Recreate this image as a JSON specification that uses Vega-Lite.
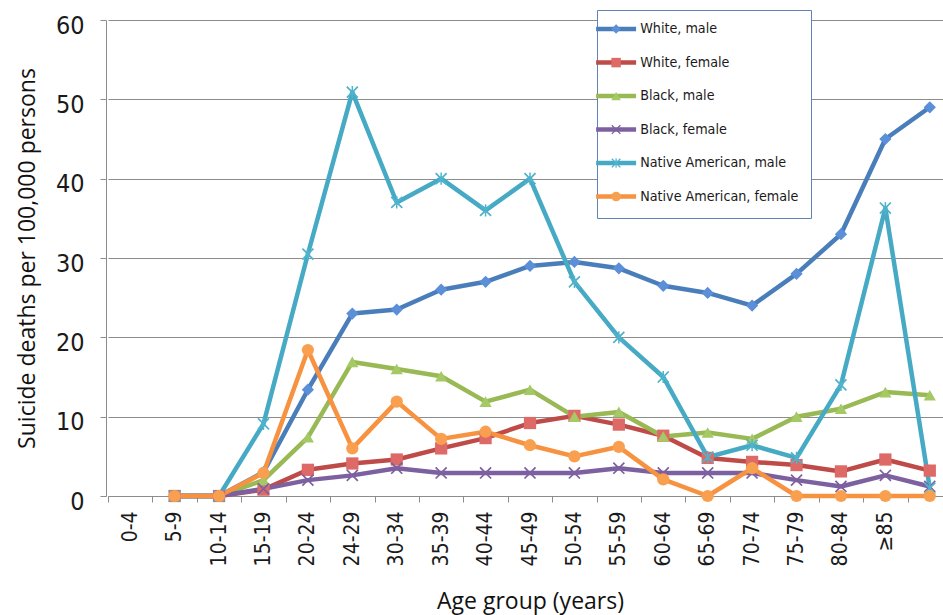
{
  "$schema": "https://vega.github.io/schema/vega-lite/v6.json",
  "width": 837,
  "height": 476,
  "autosize": {"type": "none"},
  "padding": {"left": 106, "top": 20, "right": 0, "bottom": 119},
  "background": "white",
  "config": {
    "view": {"stroke": null},
    "axis": {"domainColor": "#8c8c8c", "tickColor": "#8c8c8c", "gridColor": "#8c8c8c", "labelColor": "#1a1a1a", "titleColor": "#111111", "titleFont": "Open Sans", "titleFontSize": 23, "titleFontWeight": "normal"}
  },
  "data": {
    "values": [
      {"series": "White, male", "age": "5-9", "rate": 0},
      {"series": "White, male", "age": "10-14", "rate": 0},
      {"series": "White, male", "age": "15-19", "rate": 3},
      {"series": "White, male", "age": "20-24", "rate": 13.4},
      {"series": "White, male", "age": "24-29", "rate": 23},
      {"series": "White, male", "age": "30-34", "rate": 23.5},
      {"series": "White, male", "age": "35-39", "rate": 26},
      {"series": "White, male", "age": "40-44", "rate": 27},
      {"series": "White, male", "age": "45-49", "rate": 29},
      {"series": "White, male", "age": "50-54", "rate": 29.5},
      {"series": "White, male", "age": "55-59", "rate": 28.7},
      {"series": "White, male", "age": "60-64", "rate": 26.5},
      {"series": "White, male", "age": "65-69", "rate": 25.6},
      {"series": "White, male", "age": "70-74", "rate": 24},
      {"series": "White, male", "age": "75-79", "rate": 28},
      {"series": "White, male", "age": "80-84", "rate": 33},
      {"series": "White, male", "age": "≥85", "rate": 45},
      {"series": "White, male", "age": "(unlabeled)", "rate": 49},
      {"series": "White, female", "age": "5-9", "rate": 0},
      {"series": "White, female", "age": "10-14", "rate": 0},
      {"series": "White, female", "age": "15-19", "rate": 0.8},
      {"series": "White, female", "age": "20-24", "rate": 3.3},
      {"series": "White, female", "age": "24-29", "rate": 4.1},
      {"series": "White, female", "age": "30-34", "rate": 4.6},
      {"series": "White, female", "age": "35-39", "rate": 6},
      {"series": "White, female", "age": "40-44", "rate": 7.3},
      {"series": "White, female", "age": "45-49", "rate": 9.2},
      {"series": "White, female", "age": "50-54", "rate": 10.1},
      {"series": "White, female", "age": "55-59", "rate": 9},
      {"series": "White, female", "age": "60-64", "rate": 7.6},
      {"series": "White, female", "age": "65-69", "rate": 4.8},
      {"series": "White, female", "age": "70-74", "rate": 4.3},
      {"series": "White, female", "age": "75-79", "rate": 3.9},
      {"series": "White, female", "age": "80-84", "rate": 3.1},
      {"series": "White, female", "age": "≥85", "rate": 4.6},
      {"series": "White, female", "age": "(unlabeled)", "rate": 3.2},
      {"series": "Black, male", "age": "5-9", "rate": 0},
      {"series": "Black, male", "age": "10-14", "rate": 0},
      {"series": "Black, male", "age": "15-19", "rate": 2},
      {"series": "Black, male", "age": "20-24", "rate": 7.4},
      {"series": "Black, male", "age": "24-29", "rate": 16.9},
      {"series": "Black, male", "age": "30-34", "rate": 16},
      {"series": "Black, male", "age": "35-39", "rate": 15.1},
      {"series": "Black, male", "age": "40-44", "rate": 11.9},
      {"series": "Black, male", "age": "45-49", "rate": 13.4},
      {"series": "Black, male", "age": "50-54", "rate": 10},
      {"series": "Black, male", "age": "55-59", "rate": 10.6},
      {"series": "Black, male", "age": "60-64", "rate": 7.5},
      {"series": "Black, male", "age": "65-69", "rate": 8},
      {"series": "Black, male", "age": "70-74", "rate": 7.2},
      {"series": "Black, male", "age": "75-79", "rate": 10},
      {"series": "Black, male", "age": "80-84", "rate": 11},
      {"series": "Black, male", "age": "≥85", "rate": 13.1},
      {"series": "Black, male", "age": "(unlabeled)", "rate": 12.7},
      {"series": "Black, female", "age": "5-9", "rate": 0},
      {"series": "Black, female", "age": "10-14", "rate": 0},
      {"series": "Black, female", "age": "15-19", "rate": 0.9},
      {"series": "Black, female", "age": "20-24", "rate": 2},
      {"series": "Black, female", "age": "24-29", "rate": 2.6},
      {"series": "Black, female", "age": "30-34", "rate": 3.5},
      {"series": "Black, female", "age": "35-39", "rate": 2.9},
      {"series": "Black, female", "age": "40-44", "rate": 2.9},
      {"series": "Black, female", "age": "45-49", "rate": 2.9},
      {"series": "Black, female", "age": "50-54", "rate": 2.9},
      {"series": "Black, female", "age": "55-59", "rate": 3.5},
      {"series": "Black, female", "age": "60-64", "rate": 2.9},
      {"series": "Black, female", "age": "65-69", "rate": 2.9},
      {"series": "Black, female", "age": "70-74", "rate": 2.9},
      {"series": "Black, female", "age": "75-79", "rate": 2},
      {"series": "Black, female", "age": "80-84", "rate": 1.2},
      {"series": "Black, female", "age": "≥85", "rate": 2.6},
      {"series": "Black, female", "age": "(unlabeled)", "rate": 1.2},
      {"series": "Native American, male", "age": "5-9", "rate": 0},
      {"series": "Native American, male", "age": "10-14", "rate": 0},
      {"series": "Native American, male", "age": "15-19", "rate": 9.1},
      {"series": "Native American, male", "age": "20-24", "rate": 30.5},
      {"series": "Native American, male", "age": "24-29", "rate": 50.9},
      {"series": "Native American, male", "age": "30-34", "rate": 37},
      {"series": "Native American, male", "age": "35-39", "rate": 40},
      {"series": "Native American, male", "age": "40-44", "rate": 36},
      {"series": "Native American, male", "age": "45-49", "rate": 40},
      {"series": "Native American, male", "age": "50-54", "rate": 27},
      {"series": "Native American, male", "age": "55-59", "rate": 20},
      {"series": "Native American, male", "age": "60-64", "rate": 15},
      {"series": "Native American, male", "age": "65-69", "rate": 4.9},
      {"series": "Native American, male", "age": "70-74", "rate": 6.4},
      {"series": "Native American, male", "age": "75-79", "rate": 4.8},
      {"series": "Native American, male", "age": "80-84", "rate": 14},
      {"series": "Native American, male", "age": "≥85", "rate": 36.3},
      {"series": "Native American, male", "age": "(unlabeled)", "rate": 1},
      {"series": "Native American, female", "age": "5-9", "rate": 0},
      {"series": "Native American, female", "age": "10-14", "rate": 0},
      {"series": "Native American, female", "age": "15-19", "rate": 2.9},
      {"series": "Native American, female", "age": "20-24", "rate": 18.4},
      {"series": "Native American, female", "age": "24-29", "rate": 6},
      {"series": "Native American, female", "age": "30-34", "rate": 11.9},
      {"series": "Native American, female", "age": "35-39", "rate": 7.2},
      {"series": "Native American, female", "age": "40-44", "rate": 8.1},
      {"series": "Native American, female", "age": "45-49", "rate": 6.4},
      {"series": "Native American, female", "age": "50-54", "rate": 5},
      {"series": "Native American, female", "age": "55-59", "rate": 6.2},
      {"series": "Native American, female", "age": "60-64", "rate": 2.1},
      {"series": "Native American, female", "age": "65-69", "rate": 0},
      {"series": "Native American, female", "age": "70-74", "rate": 3.5},
      {"series": "Native American, female", "age": "75-79", "rate": 0},
      {"series": "Native American, female", "age": "80-84", "rate": 0},
      {"series": "Native American, female", "age": "≥85", "rate": 0},
      {"series": "Native American, female", "age": "(unlabeled)", "rate": 0}
    ]
  },
  "encoding": {
    "x": {
      "field": "age",
      "type": "nominal",
      "sort": null,
      "scale": {
        "domain": ["0-4", "5-9", "10-14", "15-19", "20-24", "24-29", "30-34", "35-39", "40-44", "45-49", "50-54", "55-59", "60-64", "65-69", "70-74", "75-79", "80-84", "≥85", "(unlabeled)"],
        "range": [2, 846],
        "paddingInner": 0,
        "paddingOuter": 0
      },
      "axis": {
        "title": "Age group (years)",
        "titleY": 112,
        "titleBaseline": "alphabetic",
        "labelExpr": "datum.value == '(unlabeled)' ? '' : datum.value",
        "labelAngle": -90,
        "labelAlign": "right",
        "labelBaseline": "middle",
        "labelFont": "DejaVu Sans Condensed",
        "labelFontSize": 21,
        "labelPadding": 9,
        "tickBand": "extent",
        "tickSize": 6,
        "grid": false
      }
    },
    "y": {
      "field": "rate",
      "type": "quantitative",
      "scale": {"domain": [0, 60]},
      "axis": {
        "title": "Suicide deaths per 100,000 persons",
        "titleX": -72,
        "titleBaseline": "alphabetic",
        "values": [0, 10, 20, 30, 40, 50, 60],
        "labelFont": "DejaVu Sans Condensed",
        "labelFontSize": 25,
        "labelPadding": 16,
        "labelOffset": 5,
        "tickSize": 6,
        "grid": true,
        "gridWidth": 1
      }
    },
    "order": {"value": null}
  },
  "layer": [
    {
      "mark": {"type": "line", "strokeWidth": 4.5, "strokeJoin": "round", "strokeCap": "round"},
      "encoding": {
        "color": {
          "field": "series",
          "type": "nominal",
          "scale": {
            "domain": ["White, male", "White, female", "Black, male", "Black, female", "Native American, male", "Native American, female"],
            "range": ["#4a7ebb", "#be4b48", "#98b954", "#7d60a0", "#46aac5", "#f69240"]
          },
          "legend": {
            "title": null,
            "orient": "none",
            "legendX": 491,
            "legendY": -10,
            "padding": 12,
            "rowPadding": 14.5,
            "symbolType": "M-4.44,0H4.44",
            "symbolSize": 81,
            "symbolStrokeWidth": 4.5,
            "labelFont": "DejaVu Sans Condensed",
            "labelFontSize": 14.2,
            "labelColor": "#1a1a1a",
            "labelOffset": 17,
            "labelLimit": 300,
            "fillColor": "white",
            "strokeColor": "#6082b6"
          }
        }
      }
    },
    {
      "mark": {"type": "point", "filled": true, "opacity": 1, "size": 150},
      "encoding": {
        "color": {
          "field": "series",
          "type": "nominal",
          "scale": {
            "domain": ["White, male", "White, female", "Black, male", "Black, female", "Native American, male", "Native American, female"],
            "range": ["#5b8fd8", "#dd6a66", "#a5c965", "#7d60a0", "#4fb3cc", "#f9a050"]
          },
          "legend": {
            "title": null,
            "orient": "none",
            "legendX": 491,
            "legendY": -10,
            "padding": 12,
            "rowPadding": 18.5,
            "symbolSize": 90,
            "symbolStrokeWidth": 0,
            "labelFont": "DejaVu Sans Condensed",
            "labelFontSize": 14.2,
            "labelExpr": "''",
            "labelOffset": 17,
            "labelLimit": 300
          }
        },
        "shape": {
          "field": "series",
          "type": "nominal",
          "scale": {
            "domain": ["White, male", "White, female", "Black, male", "Black, female", "Native American, male", "Native American, female"],
            "range": ["diamond", "square", "triangle-up", "M-1,-0.8L-0.8,-1L0,-0.2L0.8,-1L1,-0.8L0.2,0L1,0.8L0.8,1L0,0.2L-0.8,1L-1,0.8L-0.2,0Z", "M-1,-0.8L-0.8,-1L0,-0.2L0.8,-1L1,-0.8L0.2,0L1,0.8L0.8,1L0,0.2L-0.8,1L-1,0.8L-0.2,0ZM-0.12,-1H0.12V1H-0.12Z", "circle"]
          },
          "legend": {
            "title": null,
            "orient": "none",
            "legendX": 491,
            "legendY": -10,
            "padding": 12,
            "rowPadding": 18.5,
            "symbolSize": 90,
            "symbolStrokeWidth": 0,
            "labelFont": "DejaVu Sans Condensed",
            "labelFontSize": 14.2,
            "labelExpr": "''",
            "labelOffset": 17,
            "labelLimit": 300
          }
        }
      }
    }
  ],
  "resolve": {
    "scale": {"color": "independent", "shape": "independent"},
    "legend": {"color": "independent", "shape": "independent"}
  }
}
